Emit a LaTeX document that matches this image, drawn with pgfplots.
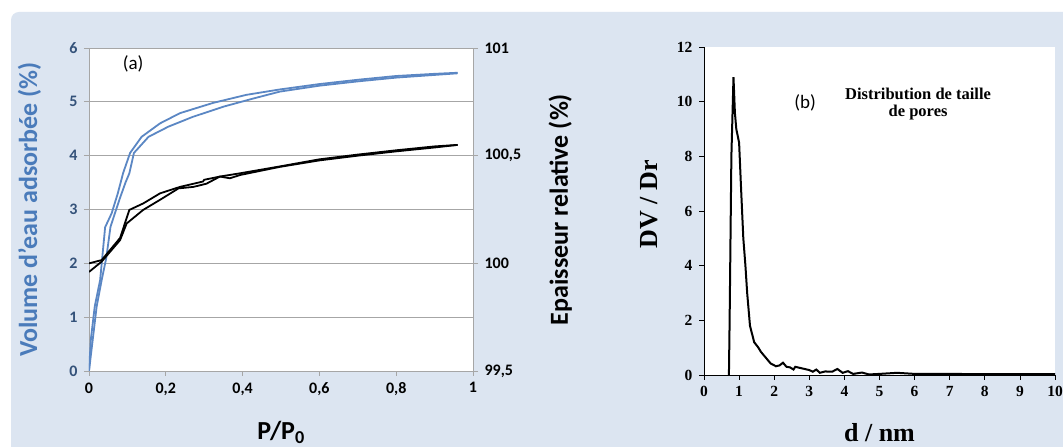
\documentclass[border=0pt]{standalone}
\usepackage{fontspec}
\setmainfont{Carlito}
\newfontfamily\timesfont{Liberation Serif}
\usepackage{pgfplots}
\pgfplotsset{compat=1.18}
\definecolor{bgblue}{HTML}{DCE5F1}
\definecolor{lineblue}{HTML}{5B87C4}
\definecolor{labelblue}{HTML}{4A7BBA}
\definecolor{tickblue}{HTML}{34527A}
\definecolor{gridgray}{HTML}{A6A6A6}
\begin{document}
\begin{tikzpicture}[x=1pt,y=1pt]
\useasboundingbox (0,0) rectangle (1063,447);
\fill[white] (0,0) rectangle (1063,447);
\fill[bgblue] (11,0) -- (11,427) arc (180:90:8) -- (1063,435) -- (1063,0) -- cycle;
% ---------- panel (a)
\begin{axis}[
  at={(89pt,76pt)}, anchor=south west,
  scale only axis, width=384pt, height=323pt,
  xmin=0, xmax=1, ymin=0, ymax=6,
  xtick={0,0.2,0.4,0.6,0.8,1}, ytick={0,1,2,3,4,5,6},
  xtick pos=bottom, ytick pos=left,
  tick align=outside, major tick length=5pt,
  tick style={gridgray, line width=0.8pt},
  axis line style={gridgray, line width=0.8pt},
  ymajorgrids, grid style={gridgray, line width=0.8pt},
  axis background/.style={fill=white},
  /pgf/number format/.cd, use comma, assume math mode=true,
  /pgfplots/.cd,
  xticklabel style={font=\bfseries\fontsize{16}{16}\selectfont, text=black, yshift=-3pt},
  yticklabel style={font=\bfseries\fontsize{16}{16}\selectfont, text=tickblue, xshift=-3pt},
  xlabel={P/P$_{\mathbf 0}$},
  xlabel style={font=\bfseries\fontsize{26}{26}\selectfont, at={(axis description cs:0.5,-0.19)}, anchor=center},
  ylabel={Volume d'eau adsorbée (\%)},
  ylabel style={font=\bfseries\fontsize{26}{26}\selectfont, text=labelblue, at={(axis description cs:-0.155,0.5)}, anchor=center},
]
\addplot[lineblue, line width=1.8pt] coordinates {
(0,0) (0.005,0.6) (0.015,1.2) (0.029,1.69) (0.042,2.67) (0.059,2.93) (0.075,3.3)
(0.089,3.68) (0.107,4.05) (0.137,4.35) (0.185,4.6) (0.237,4.79) (0.323,4.98)
(0.41,5.13) (0.497,5.23) (0.6,5.33) (0.7,5.41) (0.8,5.48) (0.9,5.52) (0.96,5.54)};
\addplot[lineblue, line width=1.8pt] coordinates {
(0,0) (0.01,0.6) (0.02,1.2) (0.033,1.69) (0.045,2.1) (0.056,2.68) (0.08,3.2)
(0.095,3.5) (0.105,3.67) (0.117,4.05) (0.155,4.35) (0.207,4.54) (0.27,4.72)
(0.35,4.91) (0.427,5.06) (0.497,5.19) (0.6,5.30) (0.7,5.38) (0.8,5.45) (0.9,5.50) (0.96,5.53)};
\node[font=\fontsize{19}{19}\selectfont, anchor=center] at (axis cs:0.115,5.7) {(a)};
\end{axis}
\begin{axis}[
  at={(89pt,76pt)}, anchor=south west,
  scale only axis, width=384pt, height=323pt,
  xmin=0, xmax=1, ymin=99.5, ymax=101,
  axis x line=none, axis y line*=right,
  ytick={99.5,100,100.5,101},
  tick align=outside, major tick length=5pt,
  tick style={gridgray, line width=0.8pt},
  axis line style={gridgray, line width=0.8pt, -},
  /pgf/number format/.cd, use comma, assume math mode=true,
  /pgfplots/.cd,
  yticklabel style={font=\bfseries\fontsize{16}{16}\selectfont, text=black, xshift=3pt,
    /pgf/number format/fixed},
  ylabel={Epaisseur relative (\%)},
  ylabel style={font=\bfseries\fontsize{26}{26}\selectfont, text=black, at={(axis description cs:1.227,0.5)}, anchor=center, rotate=0},
]
\addplot[black, line width=1.8pt] coordinates {
(0,100.0) (0.033,100.015) (0.081,100.118) (0.105,100.248) (0.141,100.278) (0.185,100.325)
(0.237,100.355) (0.297,100.38) (0.3,100.388) (0.341,100.403) (0.393,100.418) (0.497,100.45)
(0.6,100.483) (0.7,100.505) (0.8,100.525) (0.9,100.543) (0.96,100.55)};
\addplot[black, line width=1.8pt] coordinates {
(0,99.96) (0.033,100.008) (0.081,100.108) (0.098,100.185) (0.141,100.248) (0.185,100.295)
(0.233,100.348) (0.272,100.355) (0.306,100.37) (0.341,100.403) (0.367,100.395) (0.393,100.41)
(0.497,100.448) (0.6,100.478) (0.7,100.5) (0.8,100.52) (0.9,100.538) (0.96,100.55)};
\end{axis}
% ---------- panel (b)
\begin{axis}[
  at={(704pt,72pt)}, anchor=south west,
  scale only axis, width=351pt, height=328pt,
  xmin=0, xmax=10, ymin=0, ymax=12,
  xtick={0,1,...,10}, ytick={0,2,...,12},
  axis x line=bottom, axis y line=left,
  axis line style={black, line width=0.8pt, -},
  tick align=outside, major tick length=5pt,
  tick style={black, line width=0.8pt},
  axis background/.style={fill=white},
  /pgf/number format/assume math mode=true,
  ticklabel style={font=\timesfont\bfseries\fontsize{15.5}{15.5}\selectfont},
  xticklabel style={yshift=-3pt},
  yticklabel style={xshift=-3pt},
  xlabel={d / nm},
  xlabel style={font=\timesfont\bfseries\fontsize{26}{26}\selectfont, at={(axis description cs:0.5,-0.175)}, anchor=center},
  ylabel={DV / Dr},
  ylabel style={font=\timesfont\bfseries\fontsize{26}{26}\selectfont, at={(axis description cs:-0.155,0.52)}, anchor=center},
]
\addplot[black, line width=2pt] coordinates {
(0.71,0) (0.73,2) (0.78,8) (0.84,10.9) (0.88,9.6) (0.92,9.0) (1.0,8.5) (1.05,7)
(1.12,5) (1.18,4) (1.23,3) (1.31,1.8) (1.43,1.2) (1.55,1.0) (1.62,0.85) (1.75,0.65)
(1.9,0.42) (2.05,0.32) (2.15,0.35) (2.25,0.45) (2.35,0.3) (2.45,0.28) (2.55,0.2)
(2.6,0.3) (2.8,0.24) (3.0,0.18) (3.1,0.12) (3.2,0.2) (3.3,0.08) (3.45,0.13)
(3.65,0.12) (3.8,0.22) (3.95,0.08) (4.1,0.14) (4.25,0.04) (4.5,0.09) (4.7,0.02)
(5.0,0.04) (5.5,0.08) (6,0.04) (7,0.04) (8,0.03) (9,0.03) (10,0.03)};
\node[font=\fontsize{19}{19}\selectfont, anchor=center] at (axis cs:2.88,9.95) {(b)};
\node[font=\timesfont\bfseries\fontsize{16.5}{17}\selectfont, align=center, anchor=center] at (axis cs:6.1,9.92) {Distribution de taille\\de pores};
\end{axis}
\end{tikzpicture}
\end{document}
